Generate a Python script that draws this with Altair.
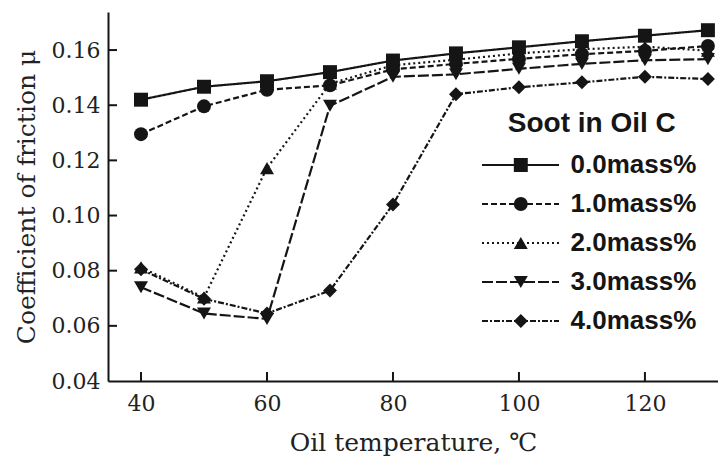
import altair as alt
import pandas as pd

# Oil temperature (deg C) and friction coefficient for each soot content
temps = [40, 50, 60, 70, 80, 90, 100, 110, 120, 130]
mu_00 = [0.1420, 0.1467, 0.1487, 0.1520, 0.1562, 0.1588, 0.1610, 0.1632, 0.1652, 0.1672]
mu_10 = [0.1295, 0.1396, 0.1456, 0.1472, 0.1530, 0.1550, 0.1568, 0.1585, 0.1597, 0.1615]
mu_20 = [0.0812, 0.0703, 0.1172, 0.1478, 0.1545, 0.1565, 0.1588, 0.1603, 0.1612, 0.1598]
mu_30 = [0.0740, 0.0645, 0.0625, 0.1398, 0.1503, 0.1512, 0.1532, 0.1550, 0.1563, 0.1567]
mu_40 = [0.0805, 0.0698, 0.0645, 0.0728, 0.1040, 0.1440, 0.1465, 0.1483, 0.1503, 0.1495]

series_names = ["0.0mass%", "1.0mass%", "2.0mass%", "3.0mass%", "4.0mass%"]
series_values = [mu_00, mu_10, mu_20, mu_30, mu_40]

x_ticks = [40, 60, 80, 100, 120]
y_ticks = [0.04, 0.06, 0.08, 0.10, 0.12, 0.14, 0.16]

rows = []
for name, vals in zip(series_names, series_values):
    for t, v in zip(temps, vals):
        rows.append({"temp": t, "mu": v, "soot": name, "soot_mark": name})
df = pd.DataFrame(rows)

INK = "#151515"
SERIF = "DejaVu Serif"
SANS = "Liberation Sans"

xscale = alt.Scale(domain=[34.76, 131.6], nice=False, zero=False)
yscale = alt.Scale(domain=[0.04, 0.1738], nice=False, zero=False)

x_enc = alt.X("temp:Q", scale=xscale,
              axis=alt.Axis(values=x_ticks, format="d", title="Oil temperature, ℃",
                            ticks=False, grid=False, labelPadding=12, titlePadding=16))
y_enc = alt.Y("mu:Q", scale=yscale,
              axis=alt.Axis(values=y_ticks, format=".2f", title="Coefficient of friction  μ",
                            ticks=False, grid=False, labelPadding=8, titlePadding=12))

dash_range = [[1, 0], [6, 3], [2, 3], [11, 3], [6, 2, 2, 2]]
shape_range = ["square", "circle", "triangle-up", "triangle-down", "diamond"]

legend_x = 399.5
legend_y = 98
title_block = 42  # title height plus its padding
marker_size = 195

# shared legend styling so the two legends stack row for row
common = dict(
    orient="none", labelFont=SANS, labelFontSize=26, labelFontWeight="bold",
    labelColor=INK, rowPadding=13, padding=0, labelLimit=300,
)

# line samples: a long horizontal stroke (path wider than the unit box) per entry, with labels
lines = alt.Chart(df).mark_line(color=INK, strokeWidth=2.2).encode(
    x=x_enc,
    y=y_enc,
    strokeDash=alt.StrokeDash(
        "soot:N",
        scale=alt.Scale(domain=series_names, range=dash_range),
        legend=alt.Legend(
            title=None, legendX=legend_x, legendY=legend_y + title_block,
            symbolType="M-5.5,0H5.5", symbolSize=196, symbolStrokeWidth=2,
            symbolStrokeColor=INK, symbolFillColor="transparent", labelOffset=37,
            **common,
        ),
    ),
    detail="soot:N",
)

# markers drawn over the line samples; this legend carries the title
points = alt.Chart(df).mark_point(filled=True, opacity=1, color=INK, size=marker_size).encode(
    x="temp:Q",
    y="mu:Q",
    shape=alt.Shape(
        "soot_mark:N",
        scale=alt.Scale(range=shape_range),
        legend=alt.Legend(
            title="Soot in Oil C", legendX=legend_x + 0.3, legendY=legend_y,
            symbolSize=marker_size, symbolFillColor=INK, symbolStrokeColor=INK,
            symbolStrokeWidth=0, labelExpr="''", labelOffset=0,
            titleFont=SANS, titleFontSize=28, titleFontWeight="bold", titleColor=INK,
            titleAnchor="start", titlePadding=14, **common,
        ),
    ),
)

# inward-pointing tick marks on both axes
ytick_df = pd.DataFrame({"mu": y_ticks[1:]})
xtick_df = pd.DataFrame({"temp": x_ticks})
ytick_rules = alt.Chart(ytick_df).mark_rule(color=INK, strokeWidth=2).encode(
    y=alt.Y("mu:Q", scale=yscale), x=alt.value(0), x2=alt.value(9)
)
xtick_rules = alt.Chart(xtick_df).mark_rule(color=INK, strokeWidth=2).encode(
    x=alt.X("temp:Q", scale=xscale), y=alt.value(369), y2=alt.value(360)
)

chart = alt.layer(lines, points, ytick_rules, xtick_rules).properties(
    width=610,
    height=369,
    padding={"left": 108, "top": 12, "right": 0, "bottom": 76},
    autosize=alt.AutoSizeParams(type="none"),
    background="white",
).configure_view(stroke=None).configure_axis(
    domainColor=INK, domainWidth=2, labelFont=SERIF, labelFontSize=22, labelColor="#222",
    titleFont=SERIF, titleFontSize=25, titleFontWeight="normal", titleColor="#222",
)

chart.save("out.html", embed_options={"renderer": "svg", "actions": False})
